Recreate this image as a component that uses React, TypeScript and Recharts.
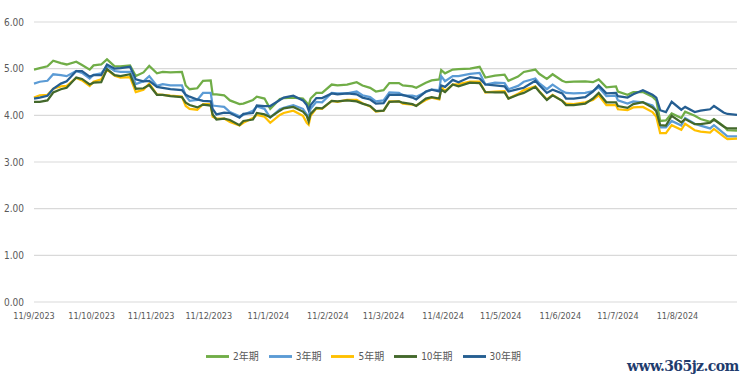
import { LineChart, Line, XAxis, YAxis, CartesianGrid, Legend } from "recharts";

// observation dates (d/m/yyyy on the axis), roughly twice a week
const dates = [
  "2023-09-11", "2023-09-14", "2023-09-18", "2023-09-21", "2023-09-25", "2023-09-28",
  "2023-10-03", "2023-10-06", "2023-10-10", "2023-10-12", "2023-10-16", "2023-10-19",
  "2023-10-23", "2023-10-26", "2023-10-31", "2023-11-03", "2023-11-07", "2023-11-10",
  "2023-11-14", "2023-11-17", "2023-11-21", "2023-11-27", "2023-11-29", "2023-12-01",
  "2023-12-05", "2023-12-08", "2023-12-12", "2023-12-13", "2023-12-15", "2023-12-19",
  "2023-12-22", "2023-12-27", "2023-12-29", "2024-01-03", "2024-01-05", "2024-01-09",
  "2024-01-12", "2024-01-17", "2024-01-19", "2024-01-24", "2024-01-29", "2024-01-31",
  "2024-02-01", "2024-02-02", "2024-02-05", "2024-02-08", "2024-02-13", "2024-02-16",
  "2024-02-21", "2024-02-26", "2024-02-29", "2024-03-04", "2024-03-07", "2024-03-11",
  "2024-03-14", "2024-03-19", "2024-03-21", "2024-03-26", "2024-03-28", "2024-04-02",
  "2024-04-05", "2024-04-09", "2024-04-10", "2024-04-12", "2024-04-16", "2024-04-19",
  "2024-04-25", "2024-04-30", "2024-05-03", "2024-05-08", "2024-05-13", "2024-05-15",
  "2024-05-20", "2024-05-23", "2024-05-29", "2024-05-31", "2024-06-04", "2024-06-07",
  "2024-06-12", "2024-06-14", "2024-06-18", "2024-06-24", "2024-06-28", "2024-07-01",
  "2024-07-05", "2024-07-10", "2024-07-11", "2024-07-16", "2024-07-19", "2024-07-24",
  "2024-07-29", "2024-07-31", "2024-08-02", "2024-08-05", "2024-08-08", "2024-08-13",
  "2024-08-15", "2024-08-20", "2024-08-23", "2024-08-28", "2024-08-30", "2024-09-04",
  "2024-09-06", "2024-09-11",
];

const y2 = [
  4.98, 5.01, 5.05, 5.17, 5.12, 5.09, 5.15, 5.08, 4.98, 5.07, 5.09, 5.2,
  5.05, 5.05, 5.07, 4.84, 4.92, 5.06, 4.9, 4.93, 4.92, 4.93, 4.64, 4.56,
  4.58, 4.74, 4.75, 4.45, 4.45, 4.43, 4.32, 4.24, 4.25, 4.33, 4.4, 4.36,
  4.14, 4.35, 4.37, 4.38, 4.36, 4.27, 4.21, 4.36, 4.48, 4.48, 4.66, 4.64,
  4.66, 4.71, 4.64, 4.59, 4.51, 4.54, 4.69, 4.69, 4.64, 4.62, 4.59, 4.7,
  4.75, 4.77, 4.97, 4.9, 4.98, 4.99, 5.0, 5.04, 4.81, 4.85, 4.87, 4.74,
  4.83, 4.93, 4.98, 4.89, 4.78, 4.88, 4.74, 4.71, 4.72, 4.73, 4.71, 4.77,
  4.6, 4.62, 4.51, 4.44, 4.5, 4.5, 4.4, 4.32, 3.88, 3.89, 4.04, 3.94,
  4.08, 3.99, 3.92, 3.86, 3.92, 3.77, 3.68, 3.67,
];

const y3 = [
  4.68, 4.72, 4.74, 4.88, 4.86, 4.84, 4.95, 4.91, 4.79, 4.87, 4.9, 5.06,
  4.95, 4.93, 4.93, 4.67, 4.73, 4.84, 4.63, 4.67, 4.64, 4.64, 4.42, 4.31,
  4.33, 4.48, 4.48, 4.21, 4.2, 4.18, 4.07, 3.98, 4.01, 4.1, 4.19, 4.14,
  3.95, 4.13, 4.16, 4.22, 4.14, 4.02, 3.96, 4.14, 4.29, 4.28, 4.48, 4.47,
  4.47, 4.51, 4.43, 4.39, 4.3, 4.32, 4.49, 4.48, 4.43, 4.42, 4.4, 4.5,
  4.55, 4.54, 4.84, 4.73, 4.84, 4.84, 4.89, 4.91, 4.66, 4.7, 4.69, 4.56,
  4.63, 4.72, 4.79, 4.69, 4.56, 4.66, 4.52, 4.48, 4.47, 4.48, 4.52, 4.6,
  4.41, 4.42, 4.32, 4.25, 4.3, 4.28, 4.21, 4.1, 3.74, 3.74, 3.88, 3.78,
  3.94, 3.82, 3.78, 3.72, 3.79, 3.62, 3.55, 3.55,
];

const y5 = [
  4.38, 4.43, 4.44, 4.57, 4.62, 4.63, 4.8, 4.75, 4.63, 4.72, 4.77, 4.98,
  4.85, 4.81, 4.82, 4.5, 4.55, 4.68, 4.45, 4.44, 4.42, 4.4, 4.2, 4.14,
  4.12, 4.24, 4.24, 3.97, 3.93, 3.93, 3.86, 3.78, 3.84, 3.94, 4.01, 3.97,
  3.84, 4.01, 4.05, 4.1, 3.99, 3.84, 3.8, 3.99, 4.15, 4.14, 4.31, 4.29,
  4.33, 4.33, 4.26, 4.19, 4.08, 4.1, 4.3, 4.3, 4.25, 4.23, 4.21, 4.33,
  4.38, 4.34, 4.61, 4.52, 4.66, 4.67, 4.72, 4.72, 4.49, 4.51, 4.52, 4.36,
  4.46, 4.54, 4.62, 4.52, 4.34, 4.44, 4.31, 4.25, 4.24, 4.28, 4.33, 4.43,
  4.22, 4.22, 4.13, 4.11, 4.17, 4.18, 4.07, 3.97, 3.62, 3.62, 3.79, 3.69,
  3.82, 3.68, 3.65, 3.63, 3.71, 3.55, 3.49, 3.5,
];

const y10 = [
  4.29, 4.29, 4.32, 4.49, 4.56, 4.59, 4.81, 4.78, 4.66, 4.7, 4.71, 4.99,
  4.86, 4.84, 4.88, 4.57, 4.58, 4.65, 4.44, 4.44, 4.41, 4.39, 4.27, 4.22,
  4.17, 4.23, 4.21, 4.02, 3.91, 3.93, 3.9, 3.79, 3.88, 3.91, 4.05, 4.02,
  3.96, 4.1, 4.15, 4.18, 4.08, 3.99, 3.87, 4.03, 4.16, 4.15, 4.31, 4.3,
  4.32, 4.3, 4.25, 4.2, 4.09, 4.1, 4.29, 4.3, 4.27, 4.24, 4.2, 4.36,
  4.39, 4.36, 4.55, 4.5, 4.66, 4.62, 4.7, 4.69, 4.5, 4.49, 4.49, 4.36,
  4.44, 4.48, 4.61, 4.51, 4.33, 4.43, 4.31, 4.22, 4.22, 4.25, 4.36, 4.48,
  4.28, 4.28, 4.2, 4.16, 4.24, 4.28, 4.17, 4.09, 3.79, 3.78, 3.99, 3.85,
  3.92, 3.81, 3.81, 3.84, 3.91, 3.76, 3.72, 3.72,
];

const y30 = [
  4.36, 4.38, 4.42, 4.57, 4.68, 4.73, 4.95, 4.95, 4.83, 4.86, 4.86, 5.09,
  5.0, 5.01, 5.04, 4.77, 4.73, 4.74, 4.61, 4.59, 4.56, 4.54, 4.44, 4.4,
  4.34, 4.31, 4.3, 4.14, 4.02, 4.06, 4.05, 3.95, 4.03, 4.05, 4.21, 4.2,
  4.2, 4.33, 4.38, 4.42, 4.32, 4.22, 4.11, 4.22, 4.37, 4.37, 4.47, 4.45,
  4.47, 4.45, 4.38, 4.34, 4.25, 4.26, 4.44, 4.44, 4.44, 4.38, 4.34, 4.51,
  4.55, 4.51, 4.64, 4.61, 4.76, 4.71, 4.82, 4.79, 4.66, 4.64, 4.62, 4.51,
  4.56, 4.59, 4.74, 4.65, 4.48, 4.55, 4.47, 4.36, 4.36, 4.39, 4.51, 4.64,
  4.47, 4.48, 4.41, 4.38, 4.45, 4.54, 4.44, 4.38, 4.11, 4.07, 4.29, 4.12,
  4.18, 4.07, 4.1, 4.13, 4.2, 4.06, 4.03, 4.01,
];

const seriesNames = ["2年期", "3年期", "5年期", "10年期", "30年期"];
const seriesKeys = ["y2", "y3", "y5", "y10", "y30"];
const seriesColors = ["#70AD47", "#5B9BD5", "#FFC000", "#43682B", "#255E91"];

const tickDates = [
  "2023-09-11", "2023-10-11", "2023-11-11", "2023-12-11", "2024-01-11", "2024-02-11",
  "2024-03-11", "2024-04-11", "2024-05-11", "2024-06-11", "2024-07-11", "2024-08-11",
];
const tickLabels = [
  "11/9/2023", "11/10/2023", "11/11/2023", "11/12/2023", "11/1/2024", "11/2/2024",
  "11/3/2024", "11/4/2024", "11/5/2024", "11/6/2024", "11/7/2024", "11/8/2024",
];
const yTicks = [0, 1, 2, 3, 4, 5, 6];

const DAY = 86400000;
const start = Date.parse(dates[0]);
const dayOf = (d: string) => Math.round((Date.parse(d) - start) / DAY);

const allSeries = [y2, y3, y5, y10, y30];
const data = dates.map((d, i) => {
  const row: Record<string, number | string> = { date: d, day: dayOf(d) };
  seriesKeys.forEach((k, s) => (row[k] = allSeries[s][i]));
  return row;
});

const tickDays = tickDates.map(dayOf);
const labelFor = (v: number) => tickLabels[tickDays.indexOf(v)] ?? "";

const font = "'Liberation Sans Narrow', 'DejaVu Sans Condensed', 'Noto Sans CJK SC', sans-serif";

export default function App() {
  return (
    <div style={{ position: "fixed", left: 0, top: 0, width: 750, height: 384, background: "#fff", fontFamily: font }}>
      <LineChart width={750} height={384} data={data} margin={{ top: 22, right: 13, left: 0, bottom: 0 }}>
        <CartesianGrid horizontal vertical={false} stroke="#d9d9d9" strokeWidth={1.2} />
        <XAxis
          dataKey="day"
          type="number"
          domain={[0, dayOf(dates[dates.length - 1])]}
          ticks={tickDays}
          tickFormatter={labelFor}
          axisLine={false}
          tickLine={false}
          tickSize={0}
          tickMargin={11}
          height={30}
          interval={0}
          tick={{ fill: "#595959", fontSize: 9, fontFamily: font }}
        />
        <YAxis
          domain={[0, 6]}
          ticks={yTicks}
          tickFormatter={(v: number) => v.toFixed(2)}
          axisLine={false}
          tickLine={false}
          tickSize={0}
          tickMargin={10}
          width={34}
          tick={{ fill: "#595959", fontSize: 10, fontFamily: font }}
        />
        <Legend
          verticalAlign="bottom"
          align="center"
          iconType="plainline"
          iconSize={23}
          itemSorter={(item: any) => seriesKeys.indexOf(item.dataKey)}
          wrapperStyle={{ height: 52, paddingTop: 13, boxSizing: "border-box", fontSize: 10, fontFamily: font, color: "#595959" }}
          formatter={(value: string) => <span style={{ color: "#595959" }}>{value}</span>}
        />
        {seriesKeys.map((k, i) => (
          <Line
            key={k}
            dataKey={k}
            name={seriesNames[i]}
            type="linear"
            stroke={seriesColors[i]}
            strokeWidth={2.25}
            dot={false}
            isAnimationActive={false}
          />
        ))}
      </LineChart>
      <div
        style={{
          position: "absolute",
          left: 627,
          top: 358,
          fontFamily: "'DejaVu Serif', serif",
          fontSize: 14,
          fontWeight: "bold",
          letterSpacing: -0.6,
          color: "#1F3C6E",
          whiteSpace: "nowrap",
        }}
      >
        www.365jz.com
      </div>
    </div>
  );
}
